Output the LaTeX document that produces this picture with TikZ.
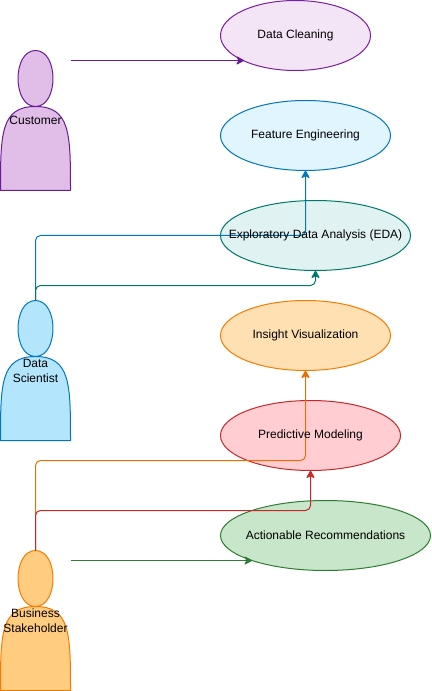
\documentclass[tikz,border=0pt]{standalone}
\usepackage{fontspec}
\setmainfont{Liberation Sans}
\usetikzlibrary{arrows.meta,shapes.geometric}
\definecolor{cleanF}{HTML}{F3E5F5}\definecolor{cleanS}{HTML}{7B1FA2}
\definecolor{featF}{HTML}{E1F5FE}\definecolor{featS}{HTML}{0277BD}
\definecolor{edaF}{HTML}{E0F2F1}\definecolor{edaS}{HTML}{00796B}
\definecolor{insF}{HTML}{FFE0B2}\definecolor{insS}{HTML}{F57C00}
\definecolor{predF}{HTML}{FFCDD2}\definecolor{predS}{HTML}{C62828}
\definecolor{actF}{HTML}{C8E6C9}\definecolor{actS}{HTML}{2E7D32}
\definecolor{custF}{HTML}{E1BEE7}\definecolor{custS}{HTML}{6A1B9A}
\definecolor{dsF}{HTML}{B3E5FC}\definecolor{dsS}{HTML}{0277BD}
\definecolor{bsF}{HTML}{FFCC80}\definecolor{bsS}{HTML}{F57C00}
\definecolor{orangeLine}{HTML}{EF6C00}
\tikzset{
  x=0.75pt,y=-0.75pt,
  txt/.style={font=\fontsize{9}{11.25}\selectfont,text=black,align=center},
  usecase/.style={ellipse,draw,line width=0.75pt,inner sep=0pt,outer sep=0pt,minimum height=52.5pt},
  caselabel/.style={txt,inner sep=0pt,yshift=-0.1pt},
  actorbox/.style={rectangle,inner sep=0pt,outer sep=0pt,minimum width=52.5pt,minimum height=105pt,txt},
  conn/.style={line width=0.75pt,rounded corners=3.75pt,-{Stealth[length=6.5pt,width=7pt,inset=1.8pt,round]}},
}
\newcommand{\actorshape}[4]{%
  \begin{scope}[shift={(#1,#2)}]
    \draw[fill=#3,draw=#4,line width=0.75pt,line join=round]
      (0,140) .. controls (0,84) and (0,56) .. (35,56)
      .. controls (11.67,56) and (11.67,0) .. (35,0)
      .. controls (58.33,0) and (58.33,56) .. (35,56)
      .. controls (70,56) and (70,84) .. (70,140) -- cycle;
  \end{scope}}
\begin{document}
\begin{tikzpicture}
\useasboundingbox (0,0) rectangle (431,691);

\actorshape{0.5}{50.5}{custF}{custS}
\actorshape{0.5}{300.5}{dsF}{dsS}
\actorshape{0.5}{550.5}{bsF}{bsS}

\node[usecase,fill=cleanF,draw=cleanS,minimum width=112.5pt] (clean) at (295.5,35.5) {};
\node[usecase,fill=featF,draw=featS,minimum width=127.5pt] (feat) at (305.5,135.5) {};
\node[usecase,fill=edaF,draw=edaS,minimum width=142.5pt] (eda) at (315.5,235.5) {};
\node[usecase,fill=insF,draw=insS,minimum width=127.5pt] (ins) at (305.5,335.5) {};
\node[usecase,fill=predF,draw=predS,minimum width=135pt] (pred) at (310.5,435.5) {};
\node[usecase,fill=actF,draw=actS,minimum width=157.5pt] (act) at (325.5,535.5) {};

\node[actorbox] (cust) at (35.5,120.5) {Customer};
\node[actorbox] (ds) at (35.5,370.5) {Data\\Scientist};
\node[actorbox] (bs) at (35.5,620.5) {Business\\Stakeholder};

\coordinate (cleanin) at (244,60.5);
\coordinate (actin) at (252,560.5);

\draw[conn,draw=custS] (cust.east |- cleanin) -- (cleanin);
\draw[conn,draw=featS] (ds.north) -- (ds.north |- 0,235.5) -- (feat.south |- 0,235.5) -- (feat.south);
\draw[conn,draw=edaS] (ds.north) -- (ds.north |- 0,285.5) -- (eda.south |- 0,285.5) -- (eda.south);
\draw[conn,draw=orangeLine] (bs.north) -- (bs.north |- 0,460.5) -- (ins.south |- 0,460.5) -- (ins.south);
\draw[conn,draw=predS] (bs.north) -- (bs.north |- 0,510.5) -- (pred.south |- 0,510.5) -- (pred.south);
\draw[conn,draw=actS] (bs.east |- actin) -- (actin);

\node[caselabel] (cleanT) at (clean.center) {Data Cleaning};
\node[caselabel] (featT) at (feat.center) {Feature Engineering};
\node[caselabel] (edaT) at (eda.center) {Exploratory Data Analysis (EDA)};
\node[caselabel] (insT) at (ins.center) {Insight Visualization};
\node[caselabel] (predT) at (pred.center) {Predictive Modeling};
\node[caselabel] (actT) at (act.center) {Actionable Recommendations};
\end{tikzpicture}
\end{document}
